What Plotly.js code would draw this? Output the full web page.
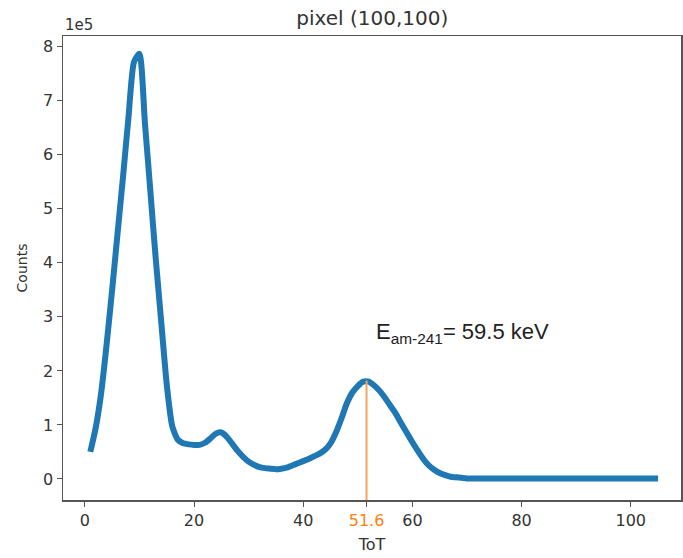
<!DOCTYPE html>
<html>
<head>
<meta charset="utf-8">
<script src="https://cdn.plot.ly/plotly-3.0.1.min.js"></script>
<style>html,body{margin:0;padding:0;background:#fff;}#chart{width:683px;height:558px;}</style>
</head>
<body>
<div id="chart"></div>
<script>
// ToT bins
const tot = [1,2,3,4,5,6,7,8,9,10,11,12,13,14,15,16,17,18,19,20,
  21,22,23,24,25,26,27,28,29,30,31,32,33,34,35,36,37,38,39,40,
  41,42,43,44,45,46,47,48,49,50,51,52,53,54,55,56,57,58,59,60,
  61,62,63,64,65,66,67,68,69,70,71,72,73,74,75,76,77,78,79,80,
  81,82,83,84,85,86,87,88,89,90,91,92,93,94,95,96,97,98,99,100,
  101,102,103,104,105];
// Counts in units of 1e5
const counts = [0.5,0.95,1.6,2.5,3.5,4.55,5.6,6.7,7.72,7.87,6.6,5.33,4.06,2.9,1.75,0.98,0.73,0.66,0.64,0.63,
  0.63,0.67,0.75,0.84,0.86,0.78,0.65,0.52,0.41,0.32,0.26,0.22,0.2,0.19,0.18,0.19,0.21,0.25,0.29,0.33,
  0.37,0.42,0.47,0.54,0.66,0.86,1.12,1.4,1.6,1.72,1.8,1.8,1.73,1.63,1.5,1.35,1.2,1.02,0.85,0.68,
  0.52,0.37,0.25,0.17,0.11,0.07,0.04,0.03,0.02,0.01,0.01,0.01,0.01,0.01,0.01,0.01,0.01,0.01,0.01,0.01,
  0.01,0.01,0.01,0.01,0.01,0.01,0.01,0.01,0.01,0.01,0.01,0.01,0.01,0.01,0.01,0.01,0.01,0.01,0.01,0.01,
  0.01,0.01,0.01,0.01,0.01];
const peakTot = 51.6;
const peakCounts = 1.82;
const xTickVals = [0,20,40,51.6,60,80,100];
const xTickText = ['0','20','40','<span style="color:#ff7f0e">51.6</span>','60','80','100'];
const yTickVals = [0,1,2,3,4,5,6,7,8];
const yTickText = ['0','1','2','3','4','5','6','7','8'];

const font = 'DejaVu Sans, sans-serif';
const traces = [{
  x: tot, y: counts, type: 'scatter', mode: 'lines',
  line: {color: '#1f77b4', width: 6, shape: 'spline', smoothing: 0.6},
  hoverinfo: 'skip'
}];
const layout = {
  width: 683, height: 558,
  margin: {l: 63, r: 2, t: 36, b: 58},
  paper_bgcolor: '#fff', plot_bgcolor: '#fff',
  showlegend: false,
  font: {family: font, size: 16, color: '#333'},
  title: {text: 'pixel (100,100)', font: {family: font, size: 20, color: '#333'}, x: 0.545, xanchor: 'center', y: 0.967, yanchor: 'middle'},
  xaxis: {
    range: [-4, 109.2], tickvals: xTickVals, ticktext: xTickText,
    showgrid: false, zeroline: false, showline: true, mirror: true, linecolor: '#555', linewidth: 1.5,
    ticks: 'outside', ticklen: 5, tickcolor: '#555', tickfont: {family: font, size: 16, color: '#333'},
    title: {text: 'ToT', font: {family: font, size: 16, color: '#333'}, standoff: 10}
  },
  yaxis: {
    range: [-0.39, 8.2], tickvals: yTickVals, ticktext: yTickText,
    showgrid: false, zeroline: false, showline: true, mirror: true, linecolor: '#555', linewidth: 1.5,
    ticks: 'outside', ticklen: 5, tickcolor: '#555', tickfont: {family: font, size: 16, color: '#333'},
    title: {text: 'Counts', font: {family: font, size: 14, color: '#333'}, standoff: 12}
  },
  shapes: [{
    type: 'line', xref: 'x', yref: 'y', x0: peakTot, x1: peakTot, y0: -0.39, y1: peakCounts,
    line: {color: '#f7a35c', width: 2}
  }],
  annotations: [
    {text: '1e5', xref: 'paper', yref: 'paper', x: 0, y: 1, xanchor: 'left', yanchor: 'bottom', showarrow: false,
     font: {family: font, size: 15, color: '#333'}},
    {text: 'E<sub>am-241</sub>= 59.5 keV', xref: 'x', yref: 'y', x: 69.2, y: 2.7, xanchor: 'center', yanchor: 'middle',
     showarrow: false, font: {family: 'Liberation Sans, Arial, sans-serif', size: 22, color: '#222'}}
  ]
};
Plotly.newPlot('chart', traces, layout, {displayModeBar: false, staticPlot: true});
</script>
</body>
</html>
